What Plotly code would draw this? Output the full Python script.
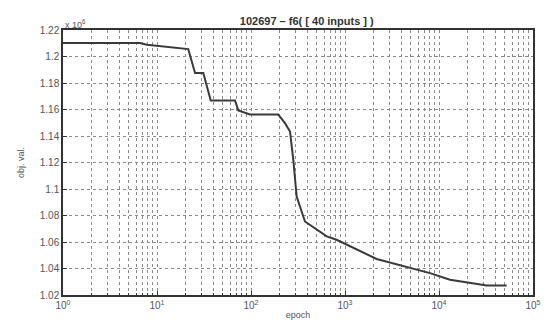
import plotly.graph_objects as go

epoch = [1, 6.6, 7.8, 21.5, 25.4, 31.1, 37.3, 67.6, 73.3, 97.6, 195, 230, 260, 282, 306,
         375, 639, 813, 2170, 3845, 8020, 13100, 21350, 32200, 52500]
obj_val = [1.2101, 1.2101, 1.2088, 1.2056, 1.1875, 1.1875, 1.1668, 1.1668, 1.1593, 1.1562,
           1.1562, 1.1497, 1.1434, 1.1220, 1.0943, 1.0755, 1.0642, 1.0617, 1.0472, 1.0425,
           1.0365, 1.0315, 1.0290, 1.0272, 1.0272]

y_ticks = [1.02, 1.04, 1.06, 1.08, 1.1, 1.12, 1.14, 1.16, 1.18, 1.2, 1.22]
y_ticktext = ["1.02", "1.04", "1.06", "1.08", "1.1", "1.12", "1.14", "1.16", "1.18", "1.2", "1.22"]
x_ticks = [1, 10, 100, 1000, 10000, 100000]
x_ticktext = ["10<sup>0</sup>", "10<sup>1</sup>", "10<sup>2</sup>", "10<sup>3</sup>",
              "10<sup>4</sup>", "10<sup>5</sup>"]

font = "Liberation Sans, Arial, sans-serif"
grid_col = "#8a8a8a"

fig = go.Figure()
fig.add_trace(go.Scatter(x=epoch, y=obj_val, mode="lines",
                         line=dict(color="#3a3a3a", width=2), showlegend=False))

fig.update_layout(
    width=544, height=320,
    margin=dict(l=63, r=11, t=30, b=25, autoexpand=False),
    paper_bgcolor="white", plot_bgcolor="white",
    font=dict(family=font, size=10, color="#555"),
    title=dict(text="<b>102697 \u2013 f6( [ 40 inputs ] )</b>", x=0.564, xanchor="center",
               y=0.934, yanchor="middle", font=dict(size=11, color="#333")),
)
fig.update_xaxes(
    type="log", range=[0, 5], tickvals=x_ticks, ticktext=x_ticktext, automargin=False,
    showline=True, linecolor="#333", linewidth=1.5, mirror=True,
    ticks="inside", ticklen=4, tickcolor="#333",
    showgrid=True, gridcolor=grid_col, griddash="dot", gridwidth=1,
    minor=dict(dtick="D1", showgrid=True, gridcolor=grid_col, griddash="dot", gridwidth=1,
               ticks="inside", ticklen=2, tickcolor="#333"),
    zeroline=False, tickfont=dict(size=10, color="#555"),
    title=dict(text="epoch", font=dict(size=9, color="#555"), standoff=2),
)
fig.update_yaxes(
    range=[1.02, 1.22], tickvals=y_ticks, ticktext=y_ticktext, automargin=False,
    showline=True, linecolor="#333", linewidth=1.5, mirror=True,
    ticks="inside", ticklen=4, tickcolor="#333",
    showgrid=True, gridcolor=grid_col, griddash="dot", gridwidth=1,
    zeroline=False, tickfont=dict(size=10, color="#555"),
    title=dict(text="obj. val.", font=dict(size=9, color="#555"), standoff=14),
)
fig.add_annotation(text="x 10<sup>6</sup>", xref="paper", yref="paper", x=0.0, y=1.0,
                   xanchor="left", yanchor="bottom", showarrow=False,
                   font=dict(size=9, color="#555"), yshift=-2)

fig.write_html("out.html")
